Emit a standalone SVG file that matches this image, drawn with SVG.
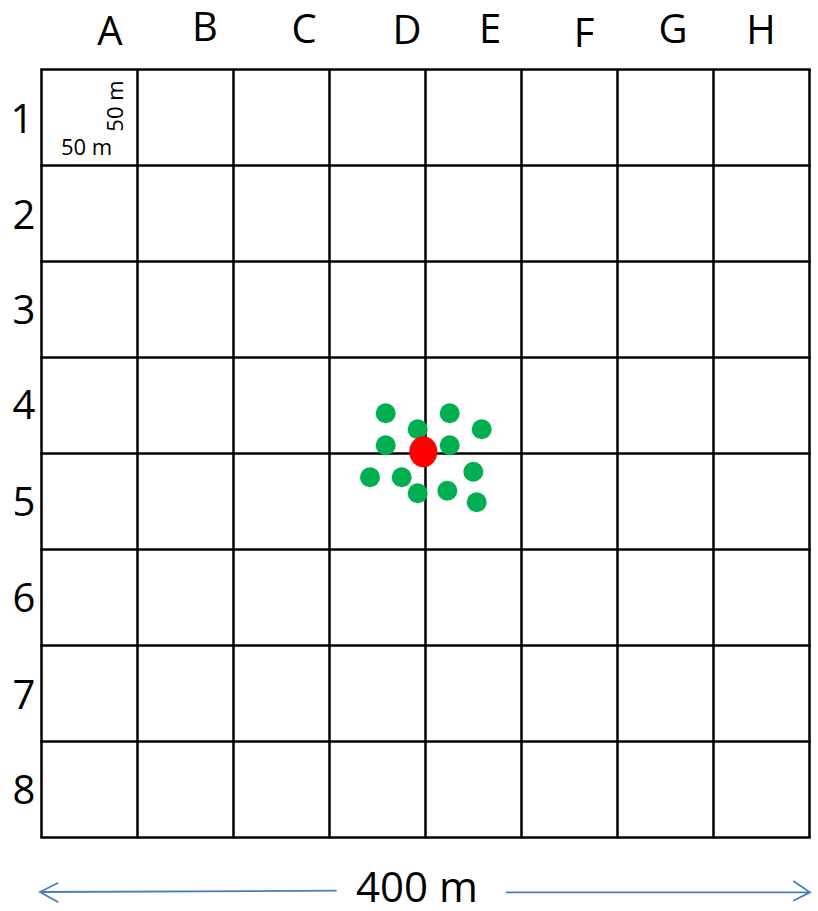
<svg xmlns="http://www.w3.org/2000/svg" width="818" height="911" viewBox="0 0 818 911">
<style>
.lbl{font-family:"Open Sans","Noto Sans",sans-serif;font-size:40px;fill:#000;text-anchor:middle}
.big{font-family:"Open Sans","Noto Sans",sans-serif;font-size:42px;fill:#000;text-anchor:middle}
.sm{font-family:"Open Sans","Noto Sans",sans-serif;font-size:22px;fill:#000;text-anchor:middle}
.grid line{stroke:#000;stroke-width:2.5}
.g{fill:#00B050}
.arr{stroke:#4A7EBB;stroke-width:1.8;fill:none}
</style>
<rect width="818" height="911" fill="#fff"/>
<g id="grid" class="grid">
<line x1="41.5" y1="69.5" x2="41.5" y2="837.5"/>
<line x1="137.5" y1="69.5" x2="137.5" y2="837.5"/>
<line x1="233.5" y1="69.5" x2="233.5" y2="837.5"/>
<line x1="329.5" y1="69.5" x2="329.5" y2="837.5"/>
<line x1="425.5" y1="69.5" x2="425.5" y2="837.5"/>
<line x1="521.5" y1="69.5" x2="521.5" y2="837.5"/>
<line x1="617.5" y1="69.5" x2="617.5" y2="837.5"/>
<line x1="713.5" y1="69.5" x2="713.5" y2="837.5"/>
<line x1="809.5" y1="69.5" x2="809.5" y2="837.5"/>
<line x1="40.25" y1="69.5" x2="810.75" y2="69.5"/>
<line x1="40.25" y1="165.5" x2="810.75" y2="165.5"/>
<line x1="40.25" y1="261.5" x2="810.75" y2="261.5"/>
<line x1="40.25" y1="357.5" x2="810.75" y2="357.5"/>
<line x1="40.25" y1="453.5" x2="810.75" y2="453.5"/>
<line x1="40.25" y1="549.5" x2="810.75" y2="549.5"/>
<line x1="40.25" y1="645.5" x2="810.75" y2="645.5"/>
<line x1="40.25" y1="741.5" x2="810.75" y2="741.5"/>
<line x1="40.25" y1="837.5" x2="810.75" y2="837.5"/>
</g>
<g id="col-labels">
<text class="lbl" x="110" y="45">A</text>
<text class="lbl" x="205" y="41">B</text>
<text class="lbl" x="304" y="43">C</text>
<text class="lbl" x="407" y="44">D</text>
<text class="lbl" x="490" y="43">E</text>
<text class="lbl" x="584" y="47">F</text>
<text class="lbl" x="673" y="43">G</text>
<text class="lbl" x="761" y="44">H</text>
</g>
<g id="row-labels">
<text class="lbl" x="22" y="133">1</text>
<text class="lbl" x="24" y="229">2</text>
<text class="lbl" x="24" y="324">3</text>
<text class="lbl" x="24" y="419">4</text>
<text class="lbl" x="24" y="516">5</text>
<text class="lbl" x="24" y="612">6</text>
<text class="lbl" x="24" y="709">7</text>
<text class="lbl" x="24" y="804">8</text>
</g>
<g id="cell-scale">
<text class="sm" x="86.5" y="155">50 m</text>
<text class="sm" transform="translate(123,106) rotate(-90)">50 m</text>
</g>
<g id="dots">
<circle class="g" cx="385.7" cy="413.3" r="10"/>
<circle class="g" cx="449.7" cy="413.3" r="10"/>
<circle class="g" cx="417.7" cy="429.3" r="10"/>
<circle class="g" cx="481.7" cy="429.3" r="10"/>
<circle class="g" cx="385.7" cy="445.3" r="10"/>
<circle class="g" cx="449.7" cy="445.3" r="10"/>
<circle class="g" cx="370" cy="477.3" r="10"/>
<circle class="g" cx="401.7" cy="477.3" r="10"/>
<circle class="g" cx="473.3" cy="471.7" r="10"/>
<circle class="g" cx="417.7" cy="493.3" r="10"/>
<circle class="g" cx="447.3" cy="490.7" r="10"/>
<circle class="g" cx="476.7" cy="502.3" r="10"/>
<ellipse id="red" cx="423.3" cy="451.7" rx="14" ry="15.5" fill="#FF0000"/>
</g>
<g id="scale-bar">
<path class="arr" d="M40 892 L336.7 890.7 M58.3 882.7 L40 892 L58.3 902.3"/>
<path class="arr" d="M506 892.3 L810 892.3 M793.3 881 L810 892.3 L793.3 900.7"/>
<text class="big" x="417" y="902">400 m</text>
</g>
</svg>
